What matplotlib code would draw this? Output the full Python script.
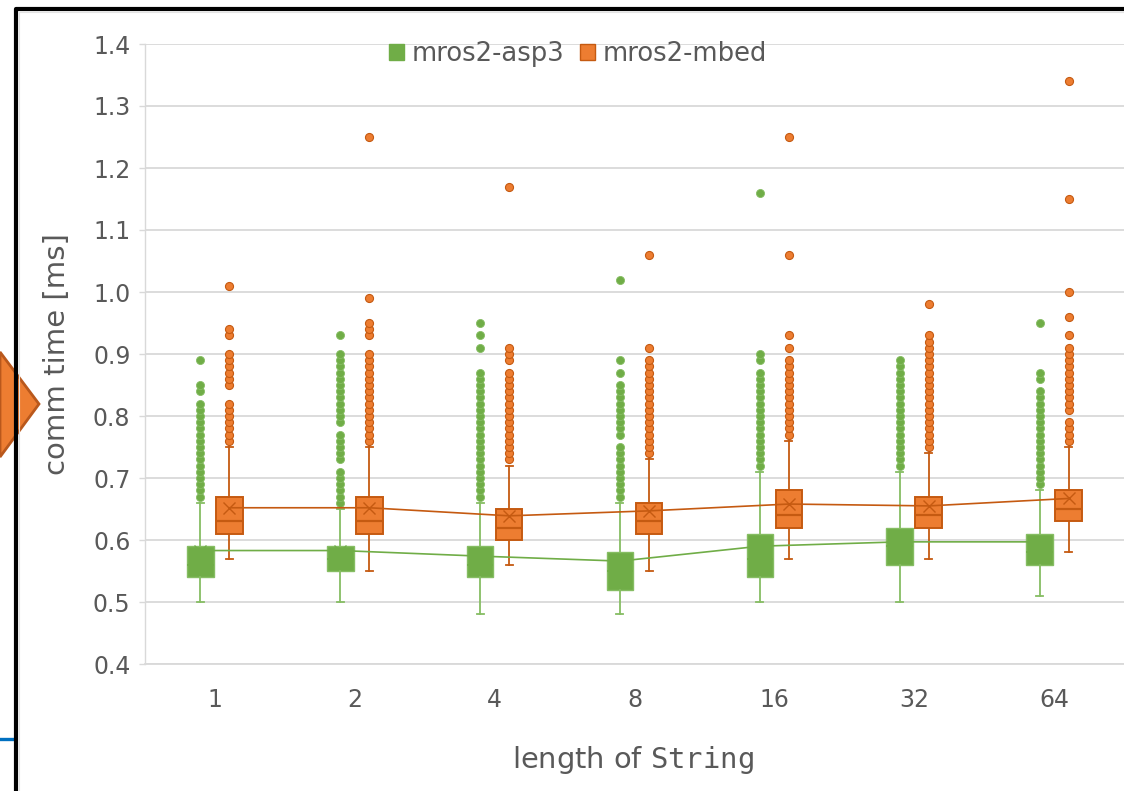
import matplotlib
matplotlib.use("Agg")
import matplotlib.pyplot as plt
from matplotlib.patches import Patch, Polygon
from matplotlib.lines import Line2D

# ---------------- data ----------------
categories = ["1", "2", "4", "8", "16", "32", "64"]
series_names = ["mros2-asp3", "mros2-mbed"]

asp3_q1 = [0.54, 0.55, 0.54, 0.52, 0.54, 0.56, 0.56]
asp3_med = [0.56, 0.57, 0.56, 0.55, 0.57, 0.59, 0.58]
asp3_q3 = [0.59, 0.59, 0.59, 0.58, 0.61, 0.62, 0.61]
asp3_wlo = [0.50, 0.50, 0.48, 0.48, 0.50, 0.50, 0.51]
asp3_whi = [0.66, 0.65, 0.66, 0.66, 0.71, 0.71, 0.68]
asp3_mean = [0.583, 0.583, 0.574, 0.566, 0.590, 0.597, 0.597]
asp3_fliers = [
    [0.67, 0.68, 0.69, 0.70, 0.71, 0.72, 0.73, 0.74, 0.75, 0.76, 0.77, 0.78,
     0.79, 0.80, 0.81, 0.82, 0.84, 0.85, 0.89],
    [0.66, 0.67, 0.68, 0.69, 0.70, 0.71, 0.73, 0.74, 0.75, 0.76, 0.77, 0.79,
     0.80, 0.81, 0.82, 0.83, 0.84, 0.85, 0.86, 0.87, 0.88, 0.89, 0.90, 0.93],
    [0.67, 0.68, 0.69, 0.70, 0.71, 0.72, 0.73, 0.74, 0.75, 0.76, 0.77, 0.78,
     0.79, 0.80, 0.81, 0.82, 0.83, 0.84, 0.85, 0.86, 0.87, 0.91, 0.93, 0.95],
    [0.67, 0.68, 0.69, 0.70, 0.71, 0.72, 0.73, 0.74, 0.75, 0.77, 0.78, 0.79,
     0.80, 0.81, 0.82, 0.83, 0.84, 0.85, 0.87, 0.89, 1.02],
    [0.72, 0.73, 0.74, 0.75, 0.76, 0.77, 0.78, 0.79, 0.80, 0.81, 0.82, 0.83,
     0.84, 0.85, 0.86, 0.87, 0.89, 0.90, 1.16],
    [0.72, 0.73, 0.74, 0.75, 0.76, 0.77, 0.78, 0.79, 0.80, 0.81, 0.82, 0.83,
     0.84, 0.85, 0.86, 0.87, 0.88, 0.89],
    [0.69, 0.70, 0.71, 0.72, 0.73, 0.74, 0.75, 0.76, 0.77, 0.78, 0.79, 0.80,
     0.81, 0.82, 0.83, 0.84, 0.86, 0.87, 0.95],
]

mbed_q1 = [0.61, 0.61, 0.60, 0.61, 0.62, 0.62, 0.63]
mbed_med = [0.63, 0.63, 0.62, 0.63, 0.64, 0.64, 0.65]
mbed_q3 = [0.67, 0.67, 0.65, 0.66, 0.68, 0.67, 0.68]
mbed_wlo = [0.57, 0.55, 0.56, 0.55, 0.57, 0.57, 0.58]
mbed_whi = [0.75, 0.75, 0.72, 0.73, 0.76, 0.74, 0.75]
mbed_mean = [0.652, 0.652, 0.639, 0.647, 0.658, 0.655, 0.667]
mbed_fliers = [
    [0.76, 0.77, 0.78, 0.79, 0.80, 0.81, 0.82, 0.85, 0.86, 0.87, 0.88, 0.89,
     0.90, 0.93, 0.94, 1.01],
    [0.76, 0.77, 0.78, 0.79, 0.80, 0.81, 0.82, 0.83, 0.84, 0.85, 0.86, 0.87,
     0.88, 0.89, 0.90, 0.93, 0.94, 0.95, 0.99, 1.25],
    [0.73, 0.74, 0.75, 0.76, 0.77, 0.78, 0.79, 0.80, 0.81, 0.82, 0.83, 0.84,
     0.85, 0.86, 0.87, 0.89, 0.90, 0.91, 1.17],
    [0.74, 0.75, 0.76, 0.77, 0.78, 0.79, 0.80, 0.81, 0.82, 0.83, 0.84, 0.85,
     0.86, 0.87, 0.88, 0.89, 0.91, 1.06],
    [0.77, 0.78, 0.79, 0.80, 0.81, 0.82, 0.83, 0.84, 0.85, 0.86, 0.87, 0.88,
     0.89, 0.91, 0.93, 1.06, 1.25],
    [0.75, 0.76, 0.77, 0.78, 0.79, 0.80, 0.81, 0.82, 0.83, 0.84, 0.85, 0.86,
     0.87, 0.88, 0.89, 0.90, 0.91, 0.92, 0.93, 0.98],
    [0.76, 0.77, 0.78, 0.79, 0.81, 0.82, 0.83, 0.84, 0.85, 0.86, 0.87, 0.88,
     0.89, 0.90, 0.91, 0.93, 0.96, 1.00, 1.15, 1.34],
]

y_ticks = [0.4, 0.5, 0.6, 0.7, 0.8, 0.9, 1.0, 1.1, 1.2, 1.3, 1.4]
y_tick_labels = ["0.4", "0.5", "0.6", "0.7", "0.8", "0.9", "1.0", "1.1", "1.2", "1.3", "1.4"]

# ---------------- style ----------------
GREEN = "#70AD47"
GREEN_L = "#86BD63"
ORANGE = "#ED7D31"
ORANGE_D = "#C55A11"
TXT = "#595959"
GRID = "#D9D9D9"

W, H = 1124, 791
fig = plt.figure(figsize=(W / 100, H / 100), dpi=100)
ax = fig.add_axes([145 / W, 1 - 664 / H, 979 / W, 620 / H])

n = len(categories)
off = 0.104
pos_a = [i - off for i in range(n)]
pos_m = [i + off for i in range(n)]


def stats(q1, med, q3, wlo, whi, mean, fl):
    return [dict(q1=q1[i], med=med[i], q3=q3[i], whislo=wlo[i], whishi=whi[i],
                 mean=mean[i], fliers=fl[i]) for i in range(len(q1))]


st_a = stats(asp3_q1, asp3_med, asp3_q3, asp3_wlo, asp3_whi, asp3_mean, asp3_fliers)
st_m = stats(mbed_q1, mbed_med, mbed_q3, mbed_wlo, mbed_whi, mbed_mean, mbed_fliers)

ax.bxp(st_a, positions=pos_a, widths=0.19, capwidths=0.05, showmeans=True,
       patch_artist=True, manage_ticks=False,
       boxprops=dict(facecolor=GREEN, edgecolor=GREEN_L, linewidth=1.0),
       whiskerprops=dict(color=GREEN_L, linewidth=1.3),
       capprops=dict(color=GREEN_L, linewidth=1.3),
       medianprops=dict(color=GREEN, linewidth=1.2),
       meanprops=dict(marker="x", markeredgecolor=GREEN, markersize=9),
       flierprops=dict(marker="o", markerfacecolor=GREEN, markeredgecolor=GREEN_L,
                       markeredgewidth=0.6, markersize=5.8))

ax.bxp(st_m, positions=pos_m, widths=0.19, capwidths=0.05, showmeans=True,
       patch_artist=True, manage_ticks=False,
       boxprops=dict(facecolor=ORANGE, edgecolor=ORANGE_D, linewidth=1.4),
       whiskerprops=dict(color=ORANGE_D, linewidth=1.3),
       capprops=dict(color=ORANGE_D, linewidth=1.3),
       medianprops=dict(color=ORANGE_D, linewidth=1.6),
       meanprops=dict(marker="x", markeredgecolor=ORANGE_D, markeredgewidth=1.0,
                      markersize=9),
       flierprops=dict(marker="o", markerfacecolor=ORANGE, markeredgecolor=ORANGE_D,
                       markeredgewidth=0.8, markersize=5.8))

# mean lines
ax.plot(pos_a, asp3_mean, color=GREEN, lw=1.2, zorder=4)
ax.plot(pos_m, mbed_mean, color=ORANGE_D, lw=1.2, zorder=4)

# axes styling
ax.set_xlim(-0.5, n - 0.5)
ax.set_ylim(0.4, 1.4)
ax.set_yticks(y_ticks)
ax.set_yticklabels(y_tick_labels)
ax.set_xticks(range(n))
ax.set_xticklabels(categories)
ax.yaxis.grid(True, color=GRID, lw=1.3, zorder=0)
ax.set_axisbelow(True)
for s in ("top", "right"):
    ax.spines[s].set_visible(False)
ax.spines["left"].set_color(GRID)
ax.spines["left"].set_linewidth(1.0)
ax.spines["bottom"].set_color(GRID)
ax.spines["bottom"].set_linewidth(1.3)
ax.tick_params(axis="y", length=4, width=1.0, color=GRID, pad=6.5,
               labelsize=17, labelcolor=TXT)
ax.tick_params(axis="x", length=0, pad=17, labelsize=17, labelcolor=TXT)

# labels
fig.text(57 / W, 1 - 354 / H, "comm time [ms]", rotation=90, ha="center",
         va="center", fontsize=21, color=TXT)
fig.text(633 / W, 1 - 760 / H, r"length of $\mathtt{String}$", ha="center",
         va="center", fontsize=20.8, color=TXT)

# legend
handles = [Patch(facecolor=GREEN, edgecolor=GREEN),
           Patch(facecolor=ORANGE, edgecolor=ORANGE_D)]
leg = ax.legend(handles, series_names, loc="center",
                bbox_to_anchor=((578 - 145) / 979, (664 - 54) / 620),
                ncol=2, frameon=False, fontsize=18.6, handlelength=0.58,
                handleheight=0.58, handletextpad=0.3, columnspacing=0.6,
                borderaxespad=0, labelcolor=TXT)

# slide decorations
arrow = Polygon([(0, 1 - 352 / H), (39 / W, 1 - 404 / H), (0, 1 - 457 / H)],
                closed=True, transform=fig.transFigure, facecolor=ORANGE,
                edgecolor="#B9581C", linewidth=2.0, zorder=1)
fig.patches.append(arrow)
fig.lines.append(Line2D([0, 14 / W], [1 - 739 / H, 1 - 739 / H],
                        transform=fig.transFigure, color="#0070C0", lw=2.4,
                        zorder=3))
fig.lines.append(Line2D([18.5 / W, 18.5 / W, 1], [0, 1 - 12 / H, 1 - 12 / H],
                        transform=fig.transFigure, color="#E3E3E3", lw=0.8,
                        zorder=3))
fig.lines.append(Line2D([15.5 / W, 15.5 / W, 1], [0, 1 - 9 / H, 1 - 9 / H],
                        transform=fig.transFigure, color="black", lw=3.0,
                        solid_capstyle="projecting", zorder=10))

fig.savefig("out.png", dpi=100)
